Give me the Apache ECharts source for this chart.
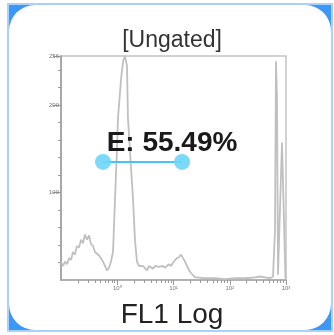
<!DOCTYPE html>
<html>
<head>
<meta charset="utf-8">
<script src="https://cdn.jsdelivr.net/npm/echarts@6.0.0/dist/echarts.min.js"></script>
<style>
  html, body { margin: 0; padding: 0; background: #fff; }
  #chart { width: 334px; height: 335px; }
</style>
</head>
<body>
<div id="chart"></div>
<script>
// FL1 intensity (log scale) and event counts
var fl1 = [0.100, 0.109, 0.118, 0.128, 0.139, 0.151, 0.163, 0.177, 0.192, 0.209,
  0.227, 0.246, 0.267, 0.290, 0.315, 0.341, 0.371, 0.402, 0.436, 0.474,
  0.514, 0.558, 0.605, 0.658, 0.713, 0.774, 0.840, 0.912, 0.990, 1.03,
  1.17, 1.27, 1.37, 1.49, 1.55, 1.75, 1.91, 2.07, 2.24, 2.44,
  2.64, 2.87, 3.11, 3.38, 3.67, 3.98, 4.32, 4.69, 5.09, 5.52,
  5.99, 6.50, 7.06, 7.66, 8.32, 9.03, 9.80, 10.6, 11.5, 12.5,
  13.6, 14.8, 16.0, 17.4, 18.9, 20.5, 22.2, 24.1, 26.2, 28.4,
  36.3, 54.7, 82.4, 124, 187, 281, 345, 424, 520, 588,
  637, 664, 692, 721, 782, 849, 921, 980];
var counts = [21, 16, 21, 18, 25, 23, 32, 29, 39, 37,
  46, 42, 52, 46, 51, 41, 39, 32, 34, 28,
  25, 21, 16, 11, 14, 21, 32, 92, 150, 185,
  230, 250, 256, 245, 185, 130, 92, 45, 21, 16,
  14, 16, 14, 11, 16, 14, 13, 16, 14, 15,
  13, 16, 14, 16, 18, 16, 20, 21, 25, 26,
  29, 25, 21, 16, 11, 8, 6, 3, 3, 2,
  2, 2, 1, 2, 2, 3, 4, 3, 2, 4,
  57, 250, 207, 6, 4, 157, 157, 0];

// gate E: start / end on FL1, drawn at a count level
var gateX = [0.558, 14.2];
var gateY = 135;
var gateText = 'E: 55.49%';

var xMajor = [1, 10, 100, 1000];
var xMinor = [0.2, 0.3, 0.4, 0.5, 0.6, 0.7, 0.8, 0.9,
  2, 3, 4, 5, 6, 7, 8, 9,
  20, 30, 40, 50, 60, 70, 80, 90,
  200, 300, 400, 500, 600, 700, 800, 900];
var yMajor = [100, 200, 256];
var yMinor = [20, 40, 60, 80, 120, 140, 160, 180, 220, 240];

var sup = { 0: '\u2070', 1: '\u00b9', 2: '\u00b2', 3: '\u00b3' };
var font = 'Liberation Sans, Arial, sans-serif';

var hist = fl1.map(function (v, i) { return [v, counts[i]]; });

var myChart = echarts.init(document.getElementById('chart'));
myChart.setOption({
  animation: false,
  graphic: [
    {
      type: 'rect', z: -10, silent: true,
      shape: { x: 8, y: 4, width: 324, height: 327 },
      style: { fill: '#3b97f8', stroke: '#a9d2fb', lineWidth: 2 }
    },
    {
      type: 'rect', z: -9, silent: true,
      shape: { x: 9, y: 5, width: 322, height: 325, r: 26 },
      style: { fill: '#fff' }
    },
    {
      type: 'text', z: 10,
      style: { text: '[Ungated]', x: 172, y: 41, textAlign: 'center', textVerticalAlign: 'middle',
        font: '23px ' + font, fill: '#333' }
    },
    {
      type: 'text', z: 10,
      style: { text: gateText, x: 172, y: 143, textAlign: 'center', textVerticalAlign: 'middle',
        font: 'bold 28px ' + font, fill: '#1a1a1a' }
    },
    {
      type: 'text', z: 10,
      style: { text: 'FL1 Log', x: 172, y: 315, textAlign: 'center', textVerticalAlign: 'middle',
        font: '28px ' + font, fill: '#222' }
    }
  ],
  grid: {
    left: 61, right: 48, top: 56, bottom: 55,
    show: true, borderColor: '#c4c4c4', borderWidth: 1.5, backgroundColor: 'transparent'
  },
  xAxis: [
    {
      type: 'log', logBase: 10, min: 0.1, max: 1000,
      axisLine: { show: true, lineStyle: { color: '#a8a8a8', width: 1.5 } },
      axisTick: { show: true, customValues: xMajor, length: 5, lineStyle: { color: '#999' } },
      axisLabel: {
        customValues: xMajor, fontSize: 6, color: '#777', margin: 5, fontFamily: font,
        formatter: function (v) { return '10' + sup[Math.round(Math.log10(v))]; }
      },
      splitLine: { show: false }
    },
    {
      type: 'log', logBase: 10, min: 0.1, max: 1000, position: 'bottom',
      axisLine: { show: false },
      axisTick: { show: true, customValues: xMinor, length: 3, lineStyle: { color: '#999' } },
      axisLabel: { show: false },
      splitLine: { show: false }
    }
  ],
  yAxis: [
    {
      type: 'value', min: 0, max: 256,
      axisLine: { show: true, lineStyle: { color: '#a8a8a8', width: 2 } },
      axisTick: { show: true, customValues: yMajor, length: 8, lineStyle: { color: '#999' } },
      axisLabel: { customValues: yMajor, fontSize: 6, color: '#777', margin: 2, fontFamily: font },
      splitLine: { show: false }
    },
    {
      type: 'value', min: 0, max: 256, position: 'left',
      axisLine: { show: false },
      axisTick: { show: true, customValues: yMinor, length: 3, lineStyle: { color: '#999' } },
      axisLabel: { show: false },
      splitLine: { show: false }
    }
  ],
  series: [
    {
      name: 'FL1', type: 'line', xAxisIndex: 0, yAxisIndex: 0,
      data: hist, showSymbol: false, symbol: 'none',
      lineStyle: { color: '#c0c0c0', width: 1.8 }
    },
    {
      name: 'E', type: 'line', xAxisIndex: 0, yAxisIndex: 0,
      data: gateX.map(function (v) { return [v, gateY]; }),
      symbol: 'circle', symbolSize: 16, showSymbol: true,
      itemStyle: { color: '#6dd5fa', opacity: 0.9 },
      lineStyle: { color: '#45c6f2', width: 2 }, z: 5
    }
  ]
});
</script>
</body>
</html>
